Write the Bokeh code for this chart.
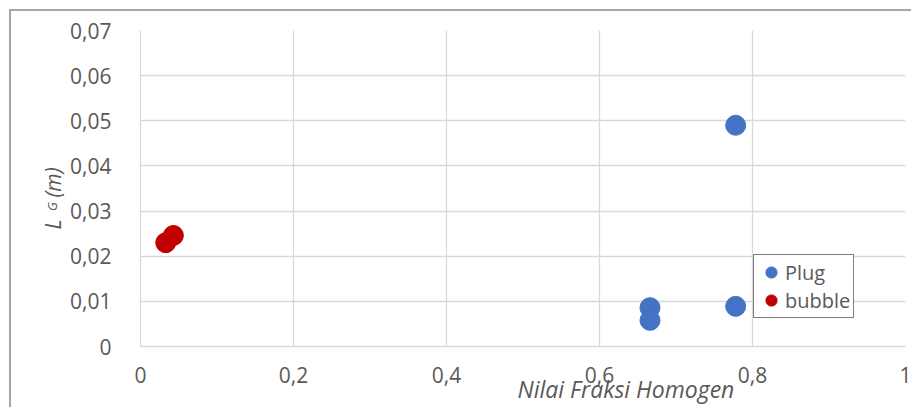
from bokeh.plotting import figure
from bokeh.models import Range1d, Label, Legend, LegendItem, FixedTicker, Title
from bokeh.embed import file_html
from bokeh.resources import INLINE

# data
plug_x = [0.778, 0.778, 0.666, 0.666]
plug_y = [0.0490, 0.0089, 0.0086, 0.0058]
bubble_x = [0.043, 0.033]
bubble_y = [0.0246, 0.0230]

x_ticks = [0, 0.2, 0.4, 0.6, 0.8, 1]
x_tick_labels = ["0", "0,2", "0,4", "0,6", "0,8", "1"]
y_ticks = [0, 0.01, 0.02, 0.03, 0.04, 0.05, 0.06, 0.07]
y_tick_labels = ["0", "0,01", "0,02", "0,03", "0,04", "0,05", "0,06", "0,07"]

FONT = "Open Sans"
TXT = "#595959"
GRID = "#d9d9d9"

p = figure(width=902, height=398, output_backend="svg", toolbar_location=None,
           x_range=Range1d(0, 1), y_range=Range1d(0, 0.07),
           min_border_left=129, min_border_right=8, min_border_top=19, min_border_bottom=63)
p.margin = (9, 0, 0, 9)
p.styles = {"border-left": "2px solid #a6a6a6", "border-top": "2px solid #a6a6a6"}
p.outline_line_color = None

p.xaxis.ticker = FixedTicker(ticks=x_ticks)
p.yaxis.ticker = FixedTicker(ticks=y_ticks)
p.xaxis.major_label_overrides = {t: l for t, l in zip(x_ticks, x_tick_labels)}
p.yaxis.major_label_overrides = {t: l for t, l in zip(y_ticks, y_tick_labels)}
for ax in (p.xaxis[0], p.yaxis[0]):
    ax.axis_line_color = GRID
    ax.axis_line_width = 1.3
    ax.major_tick_line_color = None
    ax.minor_tick_line_color = None
    ax.major_label_text_font = FONT
    ax.major_label_text_font_size = "21px"
    ax.major_label_text_color = TXT
p.xaxis.major_label_standoff = 14
p.yaxis.major_label_standoff = 23
p.grid.grid_line_color = GRID
p.grid.grid_line_width = 1.3

r1 = p.scatter(plug_x, plug_y, size=20, color="#4472C4")
r2 = p.scatter(bubble_x, bubble_y, size=20, color="#C00000")

legend = Legend(items=[LegendItem(label="Plug", renderers=[r1]),
                       LegendItem(label="bubble", renderers=[r2])],
                location=(613, 28), padding=3, spacing=0, margin=0,
                glyph_width=28, glyph_height=28, label_height=28,
                label_standoff=0,
                label_text_font=FONT, label_text_font_size="20px",
                label_text_color=TXT,
                border_line_color="black", border_line_width=1.5,
                background_fill_alpha=1)
p.add_layout(legend, "center")

# x axis title
title_kw = dict(text="Nilai Fraksi Homogen", align="left", offset=377,
                vertical_align="top", text_font=FONT, text_font_style="italic",
                text_font_size="23px", text_color=TXT)
try:
    x_title = Title(standoff=-26, **title_kw)
except Exception:
    x_title = Title(standoff=0, **title_kw)
p.add_layout(x_title, "below")

# y axis title (canvas coords), in side panels so it is not clipped
p.add_layout(Label(x=39, y=216, x_units="canvas", y_units="canvas",
                   text="L\u00a0\u00a0\u00a0\u00a0(m)", text_font=FONT, text_font_style="italic",
                   angle=90, angle_units="deg",
                   text_font_size="21px", text_color=TXT, text_baseline="middle", text_align="left"), "left")
p.add_layout(Label(x=38, y=193, x_units="canvas", y_units="canvas",
                   text="G", text_font=FONT, text_font_style="italic", angle=90, angle_units="deg",
                   text_font_size="13px", text_color=TXT, text_baseline="middle", text_align="center"), "above")

open("out.html", "w").write(file_html(p, INLINE))
